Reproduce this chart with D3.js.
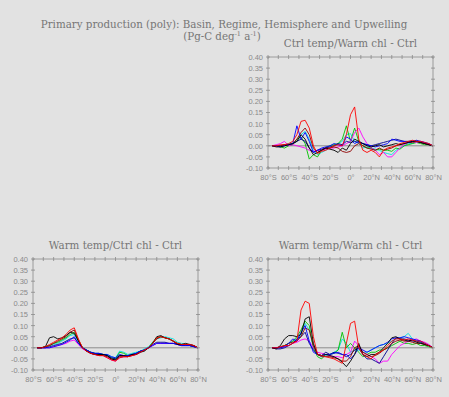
<!DOCTYPE html>
<html>
<head>
<meta charset="utf-8">
<script src="https://cdn.jsdelivr.net/npm/d3@7"></script>
<style>
  body { margin: 0; background: #e2e2e2; }
  svg { display: block; }
  .tick-label { font-family: "Liberation Sans", sans-serif; font-size: 7.5px; fill: #8a8a8a; }
  .title { font-family: "DejaVu Serif", serif; font-size: 10.3px; fill: #767676; }
</style>
</head>
<body>
<svg></svg>
<script>
var width = 449;
var height = 397;

// latitudes of every sample (deg, S negative)
var lats = [-76, -72, -68, -64, -60, -56, -52, -48, -44, -40, -36, -32, -28, -24, -20, -16, -12, -8, -4, 0,
            4, 8, 12, 16, 20, 24, 28, 32, 36, 40, 44, 48, 52, 56, 60, 64, 68, 72, 76, 80];

// axis ticks
var yTicks = [-0.10, -0.05, 0.00, 0.05, 0.10, 0.15, 0.20, 0.25, 0.30, 0.35, 0.40];
var yLabels = ['-0.10', '-0.05', '0.00', '0.05', '0.10', '0.15', '0.20', '0.25', '0.30', '0.35', '0.40'];
var xTicks = [-80, -60, -40, -20, 0, 20, 40, 60, 80];
var xLabels = ['80°S', '60°S', '40°S', '20°S', '0°', '20°N', '40°N', '60°N', '80°N'];
var xMinor = [-80, -70, -60, -50, -40, -30, -20, -10, 0, 10, 20, 30, 40, 50, 60, 70, 80];

var seriesNames = ['cyan', 'green', 'magenta', 'navy', 'maroon', 'blue', 'black', 'red'];
var seriesColors = ['#00e0e0', '#00c000', '#ff00ff', '#000090', '#900000', '#0000ff', '#000000', '#ff0000'];

// Ctrl temp/Warm chl - Ctrl
var trCyan = [0, 0, 0, 0.005, 0.01, 0.01, 0.02, 0.05, 0.065, 0.03, -0.02, -0.04, -0.03, -0.02, -0.01, 0, 0.01, 0.02, 0.05, 0.055,
              0.02, 0.01, -0.01, -0.005, -0.01, -0.015, -0.02, -0.03, -0.035, -0.04, -0.02, -0.01, 0, 0.01, 0.01, 0.02, 0.015, 0.01, 0.005, 0];
var trGreen = [0, 0, -0.005, -0.01, 0, 0.005, 0.03, 0.04, 0.01, -0.06, -0.04, -0.05, -0.02, -0.01, 0, 0.005, 0.01, 0.03, 0.09, 0.02,
               0.08, 0.02, 0, -0.01, -0.01, -0.02, -0.015, -0.02, -0.02, -0.025, -0.01, -0.015, 0, 0.005, 0.01, 0.015, 0.01, 0.005, 0.005, 0];
var trMagenta = [0, 0.005, 0.01, 0.02, 0, 0.005, 0, -0.005, -0.01, -0.02, -0.025, -0.02, -0.02, -0.015, -0.01, -0.01, -0.005, 0, 0.01, 0.02,
                 0.06, 0.08, 0.04, 0.01, -0.01, -0.02, -0.04, -0.03, -0.05, -0.05, -0.03, -0.01, 0.005, 0.015, 0.02, 0.015, 0.02, 0.015, 0.005, 0];
var trNavy = [0, 0, 0, 0.005, 0.005, 0.01, 0.02, 0.03, 0.02, -0.01, -0.03, -0.02, -0.015, -0.01, -0.005, 0, 0.01, 0.005, 0.02, 0.015,
              0.02, 0.015, 0.01, 0.005, 0, 0.005, 0.01, 0.015, 0.02, 0.025, 0.03, 0.025, 0.02, 0.02, 0.02, 0.02, 0.015, 0.01, 0.005, 0];
var trMaroon = [0, 0, 0, 0.005, 0.005, 0.01, 0.03, 0.06, 0.08, 0.05, -0.01, -0.03, -0.02, -0.01, -0.01, -0.005, -0.01, -0.025, -0.03, -0.025,
                0, 0.01, 0, -0.01, -0.015, -0.02, -0.01, -0.02, -0.015, -0.01, 0, 0.005, 0.01, 0.015, 0.015, 0.02, 0.015, 0.01, 0.005, 0];
var trBlue = [0, 0, -0.005, 0, 0.005, 0.01, 0.09, 0.03, 0.06, 0.02, -0.03, -0.02, -0.01, -0.005, 0, 0.01, 0.005, 0, 0.04, 0.03,
              0.01, 0.02, 0.01, 0.005, 0, -0.005, 0, 0.005, 0.01, 0.03, 0.025, 0.02, 0.02, 0.015, 0.02, 0.025, 0.02, 0.015, 0.01, 0];
var trBlack = [0, -0.005, -0.005, 0, 0.005, 0.01, 0.02, 0.05, 0.03, -0.01, -0.04, -0.03, -0.02, -0.01, -0.015, -0.02, -0.03, -0.01, -0.02, 0.01,
               0.03, 0.02, 0.01, 0, -0.005, 0, 0.005, -0.005, 0, 0.005, 0.01, 0.005, 0.01, 0.015, 0.02, 0.02, 0.015, 0.01, 0.005, 0];
var trRed = [0, 0, 0.005, 0.005, 0.01, 0.02, 0.05, 0.11, 0.115, 0.08, 0, -0.035, -0.025, -0.02, -0.01, 0, 0.005, 0, 0.05, 0.14,
             0.175, 0.03, -0.02, -0.03, -0.02, -0.03, -0.05, -0.02, -0.01, -0.005, 0, 0.01, 0.015, 0.02, 0.025, 0.02, 0.02, 0.015, 0.01, 0];

// Warm temp/Ctrl chl - Ctrl
var blCyan = [0, 0, 0.005, 0.01, 0.015, 0.02, 0.03, 0.04, 0.055, 0.06, 0.03, 0, -0.01, -0.02, -0.025, -0.025, -0.03, -0.03, -0.04, -0.045,
              -0.015, -0.02, -0.03, -0.025, -0.02, -0.015, -0.005, 0.005, 0.025, 0.04, 0.045, 0.05, 0.045, 0.04, 0.025, 0.02, 0.015, 0.01, 0.005, 0];
var blGreen = [0, 0, 0.005, 0.01, 0.02, 0.025, 0.035, 0.045, 0.06, 0.07, 0.035, 0, -0.01, -0.02, -0.025, -0.03, -0.03, -0.035, -0.045, -0.05,
               -0.02, -0.025, -0.035, -0.03, -0.025, -0.015, -0.01, 0, 0.025, 0.045, 0.05, 0.045, 0.04, 0.03, 0.02, 0.015, 0.015, 0.01, 0.005, 0];
var blMagenta = [0, 0, 0, 0, 0.005, 0.01, 0.015, 0.02, 0.03, 0.035, 0.015, -0.005, -0.015, -0.025, -0.03, -0.035, -0.035, -0.045, -0.055, -0.06,
                 -0.045, -0.04, -0.04, -0.035, -0.03, -0.02, -0.01, 0, 0.01, 0.02, 0.02, 0.02, 0.02, 0.02, 0.015, 0.01, 0.01, 0.01, 0.005, 0];
var blNavy = [0, 0, 0, 0.005, 0.01, 0.015, 0.02, 0.03, 0.04, 0.045, 0.02, 0, -0.01, -0.02, -0.025, -0.025, -0.03, -0.035, -0.045, -0.05,
              -0.035, -0.035, -0.035, -0.03, -0.025, -0.015, -0.01, 0, 0.015, 0.025, 0.025, 0.025, 0.02, 0.02, 0.015, 0.01, 0.01, 0.01, 0.005, 0];
var blMaroon = [0, 0, 0.005, 0.01, 0.02, 0.03, 0.04, 0.05, 0.07, 0.08, 0.035, 0, -0.015, -0.025, -0.03, -0.035, -0.035, -0.04, -0.05, -0.055,
                -0.04, -0.04, -0.04, -0.035, -0.03, -0.02, -0.01, 0, 0.02, 0.04, 0.05, 0.045, 0.04, 0.03, 0.02, 0.015, 0.015, 0.015, 0.01, 0];
var blBlue = [0, 0, 0, 0, 0.005, 0.01, 0.015, 0.025, 0.035, 0.05, 0.02, 0, -0.01, -0.02, -0.025, -0.025, -0.03, -0.03, -0.04, -0.045,
              -0.03, -0.035, -0.035, -0.03, -0.025, -0.015, -0.01, 0, 0.01, 0.02, 0.02, 0.02, 0.02, 0.02, 0.015, 0.01, 0.01, 0.01, 0.005, 0];
var blBlack = [0, 0, 0.005, 0.045, 0.05, 0.04, 0.045, 0.055, 0.07, 0.065, 0.03, 0, -0.015, -0.025, -0.03, -0.03, -0.03, -0.035, -0.05, -0.055,
               -0.035, -0.035, -0.04, -0.03, -0.03, -0.02, -0.015, 0, 0.02, 0.05, 0.055, 0.045, 0.04, 0.03, 0.015, 0.015, 0.02, 0.015, 0.01, 0];
var blRed = [0, 0, 0.005, 0.015, 0.025, 0.035, 0.045, 0.06, 0.08, 0.09, 0.04, 0, -0.015, -0.025, -0.03, -0.035, -0.035, -0.045, -0.055, -0.06,
             -0.045, -0.04, -0.04, -0.035, -0.03, -0.02, -0.01, 0, 0.02, 0.045, 0.05, 0.045, 0.04, 0.03, 0.02, 0.015, 0.015, 0.015, 0.01, 0];

// Warm temp/Warm chl - Ctrl
var brCyan = [0, 0, 0.005, 0.01, 0.02, 0.03, 0.04, 0.06, 0.11, 0.08, 0, -0.03, -0.04, -0.035, -0.03, -0.02, -0.01, 0.04, 0.02, -0.02,
              -0.01, -0.01, -0.02, -0.02, -0.01, 0, 0.01, 0.015, 0.02, 0.03, 0.04, 0.045, 0.05, 0.065, 0.04, 0.03, 0.025, 0.02, 0.01, 0];
var brGreen = [0, 0, 0.005, 0.01, 0.02, 0.03, 0.05, 0.08, 0.12, 0.1, 0, -0.04, -0.05, -0.03, -0.03, -0.025, -0.01, 0.07, 0, 0.02,
               0, -0.02, -0.04, -0.03, -0.02, -0.02, -0.01, -0.01, 0, 0.01, 0.02, 0.03, 0.02, 0.02, 0.015, 0.02, 0.01, 0.01, 0.005, 0];
var brMagenta = [0, 0, 0.005, 0.005, 0.01, 0.02, 0.025, 0.035, 0.04, 0.03, 0, -0.02, -0.025, -0.03, -0.035, -0.04, -0.04, -0.045, -0.03, -0.02,
                 0.03, 0.01, -0.02, -0.03, -0.04, -0.05, -0.07, -0.06, -0.06, -0.03, -0.01, 0.01, 0.02, 0.03, 0.035, 0.04, 0.03, 0.025, 0.015, 0];
var brNavy = [0, -0.005, -0.005, 0, 0.01, 0.02, 0.04, 0.05, 0.07, 0.02, -0.01, -0.03, -0.035, -0.02, -0.03, -0.02, -0.025, -0.03, -0.04, -0.03,
              -0.01, 0, -0.03, -0.05, -0.05, -0.06, -0.07, -0.04, -0.01, 0.02, 0.045, 0.04, 0.04, 0.035, 0.03, 0.03, 0.025, 0.015, 0.01, 0];
var brMaroon = [0, 0, 0, 0.01, 0.02, 0.025, 0.03, 0.05, 0.09, 0.08, 0.01, -0.03, -0.04, -0.04, -0.04, -0.045, -0.05, -0.06, -0.06, -0.04,
                0, 0.01, -0.02, -0.03, -0.04, -0.035, -0.025, -0.01, 0, 0.02, 0.03, 0.035, 0.03, 0.03, 0.025, 0.02, 0.02, 0.015, 0.01, 0];
var brBlue = [0, 0, 0, 0.005, 0.02, 0.04, 0.03, 0.07, 0.1, 0.03, -0.02, -0.03, -0.035, -0.03, -0.03, -0.025, -0.02, -0.03, -0.03, -0.05,
              -0.03, 0, -0.01, -0.02, -0.01, 0, 0.01, 0.015, 0.025, 0.04, 0.045, 0.045, 0.05, 0.045, 0.04, 0.035, 0.03, 0.02, 0.01, 0];
var brBlack = [0, -0.005, 0.01, 0.04, 0.055, 0.055, 0.05, 0.06, 0.13, 0.14, 0.02, -0.03, -0.035, -0.03, -0.035, -0.04, -0.05, -0.065, -0.085, -0.06,
               -0.03, 0.02, -0.03, -0.04, -0.03, -0.03, -0.02, 0, 0.02, 0.045, 0.05, 0.04, 0.035, 0.03, 0.035, 0.025, 0.02, 0.015, 0.01, 0];
var brRed = [0, 0, 0.005, 0.01, 0.01, 0.02, 0.03, 0.17, 0.21, 0.2, 0.05, -0.03, -0.035, -0.04, -0.045, -0.05, -0.06, -0.07, 0.02, 0.11,
             0.12, 0, -0.03, -0.04, -0.05, -0.03, -0.02, -0.01, 0.01, 0.03, 0.04, 0.04, 0.035, 0.04, 0.035, 0.03, 0.03, 0.02, 0.01, 0];

var panels = [
    { title: 'Ctrl temp/Warm chl - Ctrl', left: 268, top: 57,
      series: [trCyan, trGreen, trMagenta, trNavy, trMaroon, trBlue, trBlack, trRed] },
    { title: 'Warm temp/Ctrl chl - Ctrl', left: 33, top: 259,
      series: [blCyan, blGreen, blMagenta, blNavy, blMaroon, blBlue, blBlack, blRed] },
    { title: 'Warm temp/Warm chl - Ctrl', left: 268, top: 259,
      series: [brCyan, brGreen, brMagenta, brNavy, brMaroon, brBlue, brBlack, brRed] }
];
var plotW = 165;
var plotH = 111;

var svg = d3.select('svg')
    .attr('width', width)
    .attr('height', height);

// Main title
svg.append('text')
    .classed('title', true)
    .attr('x', 224)
    .attr('y', 28)
    .attr('text-anchor', 'middle')
    .text('Primary production (poly): Basin, Regime, Hemisphere and Upwelling');

var sub = svg.append('text')
    .classed('title', true)
    .attr('x', 222)
    .attr('y', 40)
    .attr('text-anchor', 'middle');
sub.append('tspan').text('(Pg-C deg');
sub.append('tspan').attr('font-size', '6.5px').attr('dy', -4).text('-1');
sub.append('tspan').attr('dy', 4).text(' a');
sub.append('tspan').attr('font-size', '6.5px').attr('dy', -4).text('-1');
sub.append('tspan').attr('dy', 4).text(')');

var x = d3.scaleLinear().domain([-80, 80]).range([0, plotW]);
var y = d3.scaleLinear().domain([-0.10, 0.40]).range([plotH, 0]);

var line = d3.line()
    .x((d, i) => x(lats[i]))
    .y(d => y(d));

panels.forEach(function (p) {
    var g = svg.append('g')
        .attr('transform', `translate(${p.left}, ${p.top})`);

    g.append('text')
        .classed('title', true)
        .attr('x', plotW / 2)
        .attr('y', -10)
        .attr('text-anchor', 'middle')
        .text(p.title);

    // zero line
    g.append('line')
        .attr('x1', 0).attr('x2', plotW)
        .attr('y1', y(0)).attr('y2', y(0))
        .attr('stroke', '#777')
        .attr('stroke-width', 0.8);

    g.selectAll('.series')
        .data(p.series)
        .enter()
        .append('path')
            .classed('series', true)
            .attr('fill', 'none')
            .attr('stroke', (d, i) => seriesColors[i])
            .attr('stroke-width', 0.9)
            .attr('stroke-linejoin', 'round')
            .attr('d', line);

    // frame
    g.append('rect')
        .attr('width', plotW)
        .attr('height', plotH)
        .attr('fill', 'none')
        .attr('stroke', '#8a8a8a')
        .attr('stroke-width', 0.8);

    // ticks on all sides
    var ticks = g.append('g').attr('stroke', '#8a8a8a').attr('stroke-width', 0.8);
    xMinor.forEach(function (v) {
        ticks.append('line').attr('x1', x(v)).attr('x2', x(v)).attr('y1', -2).attr('y2', 2);
        ticks.append('line').attr('x1', x(v)).attr('x2', x(v)).attr('y1', plotH - 2).attr('y2', plotH + 2);
    });
    yTicks.forEach(function (v) {
        ticks.append('line').attr('x1', -2).attr('x2', 2).attr('y1', y(v)).attr('y2', y(v));
        ticks.append('line').attr('x1', plotW - 2).attr('x2', plotW + 2).attr('y1', y(v)).attr('y2', y(v));
    });

    // labels
    g.append('g')
        .call(d3.axisLeft(y).tickValues(yTicks).tickFormat((d, i) => yLabels[i]).tickSize(0).tickPadding(5))
        .call(a => a.select('.domain').remove())
        .selectAll('text')
            .attr('class', 'tick-label')
            .attr('fill', null);

    g.append('g')
        .attr('transform', `translate(0, ${plotH})`)
        .call(d3.axisBottom(x).tickValues(xTicks).tickFormat((d, i) => xLabels[i]).tickSize(0).tickPadding(7))
        .call(a => a.select('.domain').remove())
        .selectAll('text')
            .attr('class', 'tick-label')
            .attr('fill', null);
});
</script>
</body>
</html>
